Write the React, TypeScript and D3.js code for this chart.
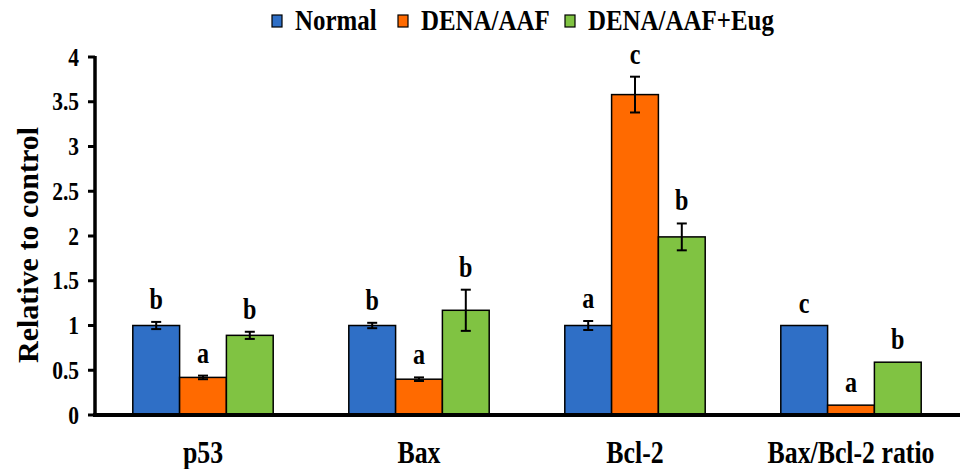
import React from "react";
import * as d3 from "d3";

const categories = ["p53", "Bax", "Bcl-2", "Bax/Bcl-2 ratio"];
const series = ["Normal", "DENA/AAF", "DENA/AAF+Eug"];
const colors = ["#2F6FC6", "#FF6A00", "#80C342"];
// values[series][category]
const values = [
  [1.0, 1.0, 1.0, 1.0],
  [0.42, 0.4, 3.58, 0.11],
  [0.89, 1.17, 1.99, 0.59],
];
const errors = [
  [0.04, 0.03, 0.05, 0],
  [0.02, 0.02, 0.2, 0],
  [0.04, 0.23, 0.15, 0],
];
const letters = [
  ["b", "b", "a", "c"],
  ["a", "a", "c", "a"],
  ["b", "b", "b", "b"],
];
const yTicks = [0, 0.5, 1, 1.5, 2, 2.5, 3, 3.5, 4];

const W = 963;
const H = 469;
const FONT = "'Liberation Serif', 'Times New Roman', serif";

function Txt({ x, y, size, anchor = "middle", sx = 0.86, sy = 1.05, children }: any) {
  return (
    <text
      transform={`translate(${x},${y}) scale(${sx},${sy})`}
      fontFamily={FONT}
      fontWeight="bold"
      fontSize={size}
      textAnchor={anchor}
      fill="#000"
    >
      {children}
    </text>
  );
}

export default function App() {
  const x = d3.scaleBand<string>().domain(categories).range([95, 959]).paddingInner(0.35).paddingOuter(0.175);
  const xs = d3.scaleBand<string>().domain(series).range([0, x.bandwidth()]);
  const y = d3.scaleLinear().domain([0, 4]).range([415, 57]);

  const legendX = [272, 398, 565];

  return (
    <svg width={W} height={H} style={{ position: "absolute", left: 0, top: 0, background: "#fff" }}>
      {/* legend */}
      {series.map((s, i) => (
        <g key={s}>
          <rect x={legendX[i]} y={15} width={10} height={12} fill={colors[i]} stroke="#000" strokeWidth={1.2} />
          <Txt x={legendX[i] + 23} y={30} size={28} sx={0.89} anchor="start">
            {s}
          </Txt>
        </g>
      ))}

      {/* bars */}
      {categories.map((c, ci) => (
        <g key={c} transform={`translate(${x(c)},0)`}>
          {series.map((s, si) => {
            const v = values[si][ci];
            const e = errors[si][ci];
            const bx = xs(s)!;
            const cx = bx + xs.bandwidth() / 2;
            const top = y(v + e);
            return (
              <g key={s}>
                <rect
                  x={bx}
                  y={y(v)}
                  width={xs.bandwidth()}
                  height={y(0) - y(v)}
                  fill={colors[si]}
                  stroke="#000"
                  strokeWidth={1.5}
                />
                {e > 0 && (
                  <g stroke="#000" strokeWidth={2}>
                    <line x1={cx} x2={cx} y1={y(v - e)} y2={y(v + e)} />
                    <line x1={cx - 5} x2={cx + 5} y1={y(v + e)} y2={y(v + e)} />
                    <line x1={cx - 5} x2={cx + 5} y1={y(v - e)} y2={y(v - e)} />
                  </g>
                )}
                <Txt x={cx} y={top - 13} size={28}>
                  {letters[si][ci]}
                </Txt>
              </g>
            );
          })}
          <Txt x={x.bandwidth() / 2} y={463} size={30}>
            {c}
          </Txt>
        </g>
      ))}

      {/* y axis */}
      <line x1={95} x2={95} y1={y(4) - 1} y2={y(0)} stroke="#000" strokeWidth={3.5} />
      {yTicks.map((t) => (
        <g key={t}>
          <line x1={88} x2={95} y1={y(t)} y2={y(t)} stroke="#000" strokeWidth={3} />
          <Txt x={79} y={y(t) + 8.5} size={25} anchor="end">
            {String(t)}
          </Txt>
        </g>
      ))}
      {/* x axis */}
      <line x1={93} x2={960} y1={y(0)} y2={y(0)} stroke="#000" strokeWidth={4} />

      <text
        transform={`translate(38,245) rotate(-90) scale(1,0.95)`}
        fontFamily={FONT}
        fontWeight="bold"
        fontSize={30}
        textAnchor="middle"
        fill="#000"
      >
        Relative to control
      </text>
    </svg>
  );
}
